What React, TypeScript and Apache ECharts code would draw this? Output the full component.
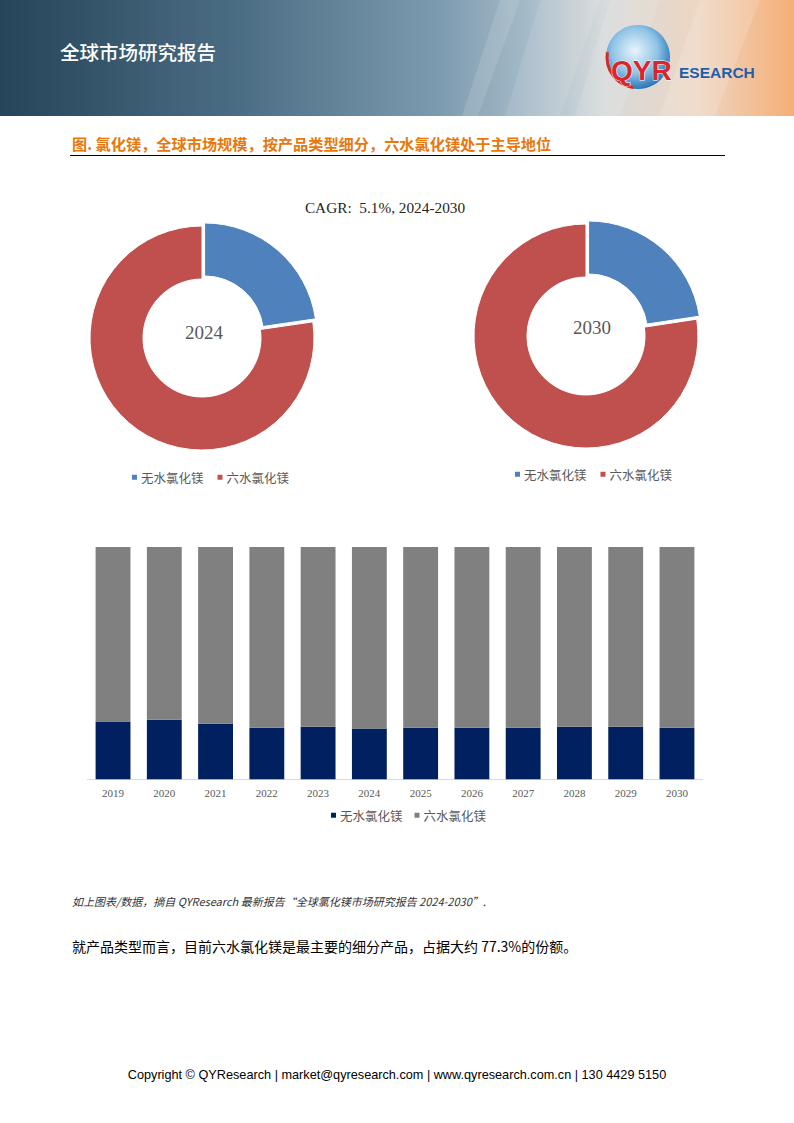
import React, { useEffect, useRef } from "react";
import * as echarts from "echarts";

const years = ["2019", "2020", "2021", "2022", "2023", "2024", "2025", "2026", "2027", "2028", "2029", "2030"];
const anhydrousShare = [24.9, 25.6, 23.9, 22.2, 22.6, 21.9, 22.2, 22.2, 22.2, 22.6, 22.6, 22.2];
const hexahydrateShare = [75.1, 74.4, 76.1, 77.8, 77.4, 78.1, 77.8, 77.8, 77.8, 77.4, 77.4, 77.8];
const typeNames = ["无水氯化镁", "六水氯化镁"];
const pie2024 = [22.7, 77.3];
const pie2030 = [22.6, 77.4];
const pieYears = ["2024", "2030"];

const PIE_COLORS = ["#4F81BD", "#C0504D"];
const BAR_COLORS = ["#002060", "#808080"];

const CJK = "'Noto Sans CJK SC', 'Noto Sans', sans-serif";
const SERIF = "'Liberation Serif', 'DejaVu Serif', serif";

export default function App() {
  const ref = useRef<HTMLDivElement>(null);

  useEffect(() => {
    if (!ref.current) return;
    const chart = echarts.init(ref.current, null, { renderer: "svg" });

    const pieData = (vals: number[]) =>
      vals.map((v, i) => ({
        name: typeNames[i],
        value: v,
        selected: i === 0,
        itemStyle: { color: PIE_COLORS[i] },
      }));

    const legendBase = {
      orient: "horizontal",
      icon: "rect",
      itemWidth: 5,
      itemHeight: 5,
      itemGap: 14,
      selectedMode: false,
      textStyle: { fontFamily: CJK, fontSize: 12.5, color: "#595959", padding: [0, 0, 0, -1] },
    };

    const headerGrad = new echarts.graphic.LinearGradient(0, 0, 1, 0, [
      { offset: 0, color: "#26445a" },
      { offset: 0.3, color: "#4b6d83" },
      { offset: 0.55, color: "#7c9aaf" },
      { offset: 0.66, color: "#a3b9c7" },
      { offset: 0.76, color: "#d6dadb" },
      { offset: 0.88, color: "#eed6c2" },
      { offset: 1, color: "#f6ae76" },
    ]);

    const globeGrad = new echarts.graphic.RadialGradient(0.45, 0.4, 0.6, [
      { offset: 0, color: "#e8f4fb" },
      { offset: 0.6, color: "#8fc3e6" },
      { offset: 1, color: "#2a78bb" },
    ]);

    const option: any = {
      animation: false,
      backgroundColor: "#ffffff",
      graphic: [
        { type: "rect", shape: { x: 0, y: 0, width: 794, height: 116 }, style: { fill: headerGrad }, silent: true },
        { type: "polygon", shape: { points: [[500, 0], [520, 0], [478, 116], [462, 116]] }, style: { fill: "rgba(255,255,255,0.12)" } },
        { type: "polygon", shape: { points: [[540, 0], [600, 0], [560, 116], [505, 116]] }, style: { fill: "rgba(255,255,255,0.10)" } },
        { type: "polygon", shape: { points: [[610, 0], [660, 0], [620, 116], [575, 116]] }, style: { fill: "rgba(255,255,255,0.12)" } },
        { type: "polygon", shape: { points: [[700, 0], [760, 0], [715, 116], [660, 116]] }, style: { fill: "rgba(255,255,255,0.15)" } },
        {
          type: "text",
          x: 60,
          y: 51,
          style: { text: "全球市场研究报告", fill: "#ffffff", font: `500 19.5px ${CJK}`, textVerticalAlign: "middle" },
        },
        { type: "circle", shape: { cx: 638, cy: 57, r: 32 }, style: { fill: globeGrad } },
        { type: "arc", shape: { cx: 638, cy: 57, r: 31, startAngle: Math.PI * 0.55, endAngle: Math.PI * 1.05 }, style: { stroke: "#d62a2a", lineWidth: 3, fill: "none" } },
        {
          type: "text",
          x: 611,
          y: 70,
          style: { text: "QYR", fill: "#d8262b", font: `bold 28px 'Liberation Sans', sans-serif`, textVerticalAlign: "middle", stroke: "#ffffff", lineWidth: 1 },
        },
        {
          type: "text",
          x: 679,
          y: 72,
          style: { text: "ESEARCH", fill: "#1e5fa8", font: `bold 15.5px 'Liberation Sans', sans-serif`, textVerticalAlign: "middle" },
        },
        {
          type: "text",
          x: 72,
          y: 143,
          style: {
            text: "图. 氯化镁，全球市场规模，按产品类型细分，六水氯化镁处于主导地位",
            fill: "#E8780C",
            font: `bold 15.2px ${CJK}`,
            textVerticalAlign: "middle",
          },
        },
        { type: "line", shape: { x1: 70, y1: 155.5, x2: 725, y2: 155.5 }, style: { stroke: "#000000", lineWidth: 1 } },
        {
          type: "text",
          x: 385,
          y: 207,
          style: { text: "CAGR:  5.1%, 2024-2030", fill: "#262626", font: `15.3px ${SERIF}`, textAlign: "center", textVerticalAlign: "middle" },
        },
        {
          type: "text",
          x: 204,
          y: 332,
          style: { text: pieYears[0], fill: "#595959", font: `19px ${SERIF}`, textAlign: "center", textVerticalAlign: "middle" },
        },
        {
          type: "text",
          x: 592,
          y: 327,
          style: { text: pieYears[1], fill: "#595959", font: `19px ${SERIF}`, textAlign: "center", textVerticalAlign: "middle" },
        },
        {
          type: "text",
          x: 72,
          y: 901,
          style: {
            text: "如上图表/数据，摘自 QYResearch 最新报告“全球氯化镁市场研究报告 2024-2030”.",
            fill: "#333333",
            font: `italic 11px ${CJK}`,
            textVerticalAlign: "middle",
          },
        },
        {
          type: "text",
          x: 72,
          y: 946,
          style: {
            text: "就产品类型而言，目前六水氯化镁是最主要的细分产品，占据大约 77.3%的份额。",
            fill: "#000000",
            font: `14px ${CJK}`,
            textVerticalAlign: "middle",
          },
        },
        {
          type: "text",
          x: 397,
          y: 1075,
          style: {
            text: "Copyright © QYResearch | market@qyresearch.com | www.qyresearch.com.cn | 130 4429 5150",
            fill: "#000000",
            font: `12.7px 'Liberation Sans', 'DejaVu Sans', sans-serif`,
            textAlign: "center",
            textVerticalAlign: "middle",
          },
        },
      ],
      legend: [
        {
          ...legendBase,
          left: 127,
          top: 466,
          data: typeNames.map((n, i) => ({ name: n, itemStyle: { color: PIE_COLORS[i] } })),
        },
        {
          ...legendBase,
          left: 510,
          top: 463,
          data: typeNames.map((n, i) => ({ name: n, itemStyle: { color: PIE_COLORS[i] } })),
        },
        {
          ...legendBase,
          itemGap: 12,
          left: 326,
          top: 804,
          data: typeNames.map((n, i) => ({ name: n, itemStyle: { color: BAR_COLORS[i] } })),
        },
      ],
      grid: { left: 87.4, right: 91.4, top: 547, bottom: 343.7 },
      xAxis: {
        type: "category",
        data: years,
        axisLine: { lineStyle: { color: "#d9d9d9" } },
        axisTick: { show: false },
        axisLabel: { fontFamily: SERIF, fontSize: 11, color: "#595959", margin: 8 },
      },
      yAxis: { type: "value", min: 0, max: 100, show: false, splitLine: { show: false } },
      series: [
        {
          type: "pie",
          center: [202, 338],
          radius: [59, 112],
          startAngle: 90,
          clockwise: true,
          selectedMode: "single",
          selectedOffset: 4,
          label: { show: false },
          labelLine: { show: false },
          emphasis: { disabled: true },
          itemStyle: { borderColor: "#ffffff", borderWidth: 1 },
          data: pieData(pie2024),
        },
        {
          type: "pie",
          center: [586, 336],
          radius: [59, 112],
          startAngle: 90,
          clockwise: true,
          selectedMode: "single",
          selectedOffset: 4,
          label: { show: false },
          labelLine: { show: false },
          emphasis: { disabled: true },
          itemStyle: { borderColor: "#ffffff", borderWidth: 1 },
          data: pieData(pie2030),
        },
        {
          name: typeNames[0],
          type: "bar",
          stack: "share",
          barWidth: "68%",
          itemStyle: { color: BAR_COLORS[0] },
          emphasis: { disabled: true },
          data: anhydrousShare,
        },
        {
          name: typeNames[1],
          type: "bar",
          stack: "share",
          barWidth: "68%",
          itemStyle: { color: BAR_COLORS[1] },
          emphasis: { disabled: true },
          data: hexahydrateShare,
        },
      ],
    };

    chart.setOption(option);
    return () => chart.dispose();
  }, []);

  return (
    <div
      ref={ref}
      style={{ position: "absolute", left: 0, top: 0, width: 794, height: 1123, background: "#ffffff" }}
    />
  );
}
